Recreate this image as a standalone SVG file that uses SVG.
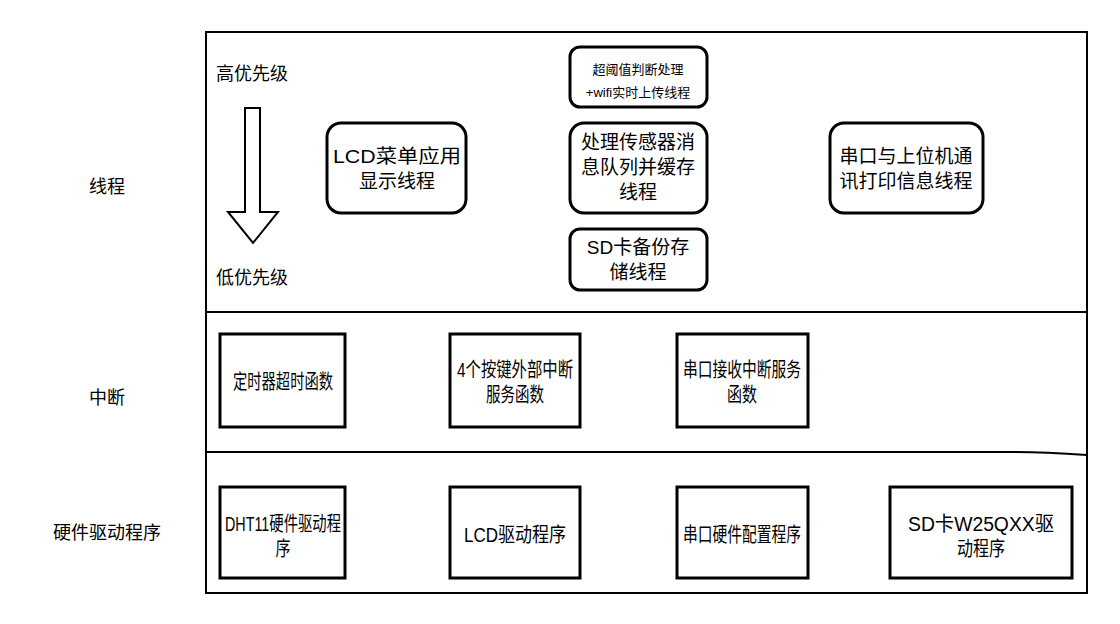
<svg xmlns="http://www.w3.org/2000/svg" width="1120" height="624" viewBox="0 0 1120 624">
<style>
text{font-family:"Liberation Sans","Noto Sans CJK SC",sans-serif;fill:#000;text-anchor:middle}
.b{fill:#fff;stroke:#000;stroke-width:3}
.l{font-size:18px}
.m{font-size:20px}
.t{font-size:19px}
.s{font-size:13px}
.f{fill:none;stroke:#000;stroke-width:2}
</style>
<rect width="1120" height="624" fill="#fff"/>
<g id="frame">
<rect x="206" y="32" width="881" height="561" class="f"/>
<path d="M206 312H1087" class="f"/>
<path d="M206 452H1010Q1040 452 1087 455" class="f" stroke-width="2.5"/>
</g>
<g id="labels">
<text x="107" y="193" class="l">线程</text>
<text x="107" y="404" class="l">中断</text>
<text x="107" y="539" class="l">硬件驱动程序</text>
<text x="252" y="80" class="l">高优先级</text>
<text x="252" y="284" class="l">低优先级</text>
</g>
<g id="priority-arrow">
<path d="M245 108H260V212H278L253 243L228 212H245Z" fill="#fff" stroke="#000" stroke-width="2"/>
</g>
<g id="n-wifi"><rect x="570" y="47" width="137" height="60" rx="10" class="b"/><text x="638" y="74" class="s">超阈值判断处理</text><text x="638" y="97" class="s">+wifi实时上传线程</text></g>
<g id="n-lcdthread"><rect x="327" y="123" width="139" height="90" rx="14" class="b"/><text x="397" y="163" class="t" textLength="128" lengthAdjust="spacingAndGlyphs">LCD菜单应用</text><text x="397" y="188" class="t">显示线程</text></g>
<g id="n-sensor"><rect x="570" y="123" width="137" height="90" rx="14" class="b"/><text x="638" y="149" class="t">处理传感器消</text><text x="638" y="174" class="t">息队列并缓存</text><text x="638" y="199" class="t">线程</text></g>
<g id="n-serialthread"><rect x="830" y="123" width="153" height="90" rx="14" class="b"/><text x="906" y="163" class="t">串口与上位机通</text><text x="906" y="188" class="t">讯打印信息线程</text></g>
<g id="n-sd"><rect x="570" y="229" width="137" height="61" rx="10" class="b"/><text x="638" y="254" class="t">SD卡备份存</text><text x="638" y="279" class="t">储线程</text></g>
<g id="n-timer"><rect x="220" y="334" width="125" height="93" class="b"/><text x="283" y="389" class="m" textLength="100" lengthAdjust="spacingAndGlyphs">定时器超时函数</text></g>
<g id="n-key"><rect x="450" y="334" width="130" height="93" class="b"/><text x="515" y="377" class="m" textLength="116" lengthAdjust="spacingAndGlyphs">4个按键外部中断</text><text x="515" y="402" class="m" textLength="58" lengthAdjust="spacingAndGlyphs">服务函数</text></g>
<g id="n-uartirq"><rect x="677" y="334" width="131" height="93" class="b"/><text x="742" y="377" class="m" textLength="118" lengthAdjust="spacingAndGlyphs">串口接收中断服务</text><text x="742" y="402" class="m" textLength="30" lengthAdjust="spacingAndGlyphs">函数</text></g>
<g id="n-dht"><rect x="220" y="487" width="125" height="91" class="b"/><text x="283" y="531" class="m" textLength="116" lengthAdjust="spacingAndGlyphs">DHT11硬件驱动程</text><text x="283" y="556" class="m" textLength="15" lengthAdjust="spacingAndGlyphs">序</text></g>
<g id="n-lcddrv"><rect x="450" y="487" width="130" height="91" class="b"/><text x="515" y="542" class="m" textLength="102" lengthAdjust="spacingAndGlyphs">LCD驱动程序</text></g>
<g id="n-uartcfg"><rect x="677" y="487" width="131" height="91" class="b"/><text x="742" y="542" class="m" textLength="118" lengthAdjust="spacingAndGlyphs">串口硬件配置程序</text></g>
<g id="n-sdw25"><rect x="890" y="487" width="182" height="91" class="b"/><text x="981" y="531" class="m" textLength="146" lengthAdjust="spacingAndGlyphs">SD卡W25QXX驱</text><text x="981" y="556" class="m" textLength="48" lengthAdjust="spacingAndGlyphs">动程序</text></g>
<g id="connectors"/>
</svg>
